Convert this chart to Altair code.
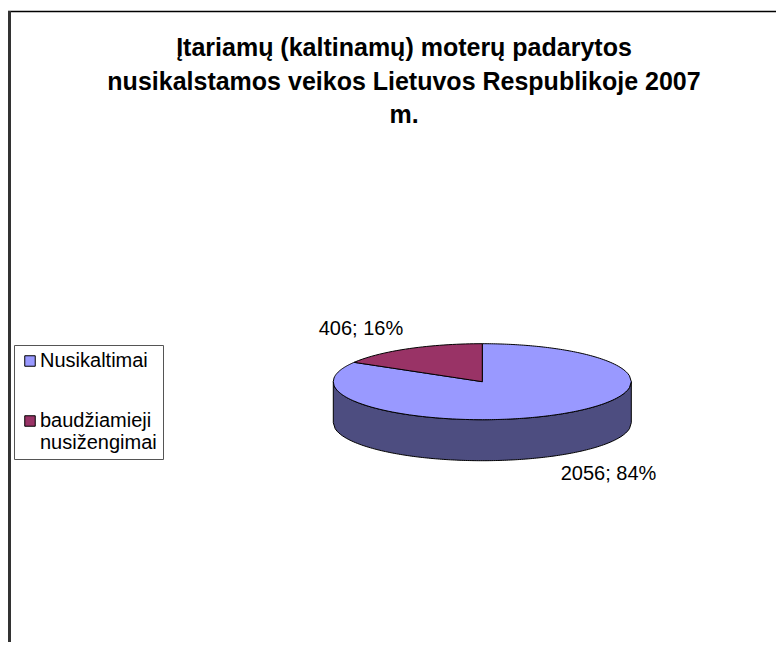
import math
import altair as alt
import pandas as pd

# ---- chart values ----
TITLE_LINES = ["Įtariamų (kaltinamų) moterų padarytos",
               "nusikalstamos veikos Lietuvos Respublikoje 2007",
               "m."]
SERIES = ["Nusikaltimai", "\u00a0baudžiamieji\nnusižengimai"]
VALUES = [2056, 406]
COLORS = ["#9999FF", "#993366"]
SIDE_COLOR = "#4D4D80"

# ---- pie geometry (drawing units = px) ----
A, B, DEPTH = 149, 38, 41
W, H = 768, 634
CX, CY = 482.3 - 8, 381.7 - 8
FONT = "Liberation Sans"
EPS = 1e-6

total = sum(VALUES)
theta = 2 * math.pi * VALUES[1] / total
xs = -A * math.sin(theta)


def upper(x):
    return B * math.sqrt(max(0.0, 1 - (x / A) ** 2))


def ray(x):
    return upper(xs) * x / xs


def grid(a, b, n=60):
    return [a + (b - a) * i / n for i in range(n + 1)]


side, main, wedge = [], [], []
for x in grid(-A, A, 160):
    side.append({"x": x, "y": -upper(x), "y2": -upper(x) - DEPTH})
for x in grid(-A, xs - EPS, 30):
    main.append({"x": x, "y": -upper(x), "y2": upper(x), "series": SERIES[0]})
for x in grid(xs, -EPS, 30):
    main.append({"x": x, "y": -upper(x), "y2": ray(x), "series": SERIES[0]})
    wedge.append({"x": x, "y": ray(x), "y2": upper(x), "series": SERIES[1]})
for x in grid(0, A, 80):
    main.append({"x": x, "y": -upper(x), "y2": upper(x), "series": SERIES[0]})

xscale = alt.Scale(domain=[-CX, W - CX], nice=False, zero=False)
yscale = alt.Scale(domain=[-(H - CY), CY], nice=False, zero=False)
X = alt.X("x:Q", scale=xscale, axis=None)
Y = alt.Y("y:Q", scale=yscale, axis=None, stack=None)
color = alt.Color(
    "series:N",
    scale=alt.Scale(domain=SERIES, range=COLORS),
    sort=SERIES,
    legend=alt.Legend(
        title=None, orient="none", legendX=6, legendY=337,
        fillColor="white", strokeColor="#555555", padding=6,
        symbolType="square", symbolSize=110, symbolStrokeColor="black",
        symbolStrokeWidth=1, symbolOpacity=1, labelFont=FONT, labelFontSize=20,
        labelColor="black", labelLimit=200, rowPadding=40, labelOffset=0,
        labelExpr="split(datum.label, '\\n')",
    ),
)

side_layer = alt.Chart(pd.DataFrame(side)).mark_area(
    fill=SIDE_COLOR, stroke="black", strokeWidth=1
).encode(x=X, y=Y, y2="y2:Q")
main_layer = alt.Chart(pd.DataFrame(main)).mark_area(
    stroke="black", strokeWidth=1, opacity=1
).encode(x=X, y=Y, y2="y2:Q", color=color)
wedge_layer = alt.Chart(pd.DataFrame(wedge)).mark_area(
    stroke="black", strokeWidth=1, opacity=1
).encode(x=X, y=Y, y2="y2:Q", color=color)

label_df = pd.DataFrame({
    "text": [f"{v}; {round(v / total * 100)}%" for v in VALUES],
    "px": [608.5 - 8, 361 - 8],
    "py": [474 - 8, 329 - 8],
})
labels = alt.Chart(label_df).mark_text(
    font=FONT, fontSize=20, color="black", align="center", baseline="middle"
).encode(
    x=alt.X("px:Q", scale=None),
    y=alt.Y("py:Q", scale=None),
    text="text:N",
)

frame_df = pd.DataFrame({"a": [0]})
top_rule = alt.Chart(frame_df).mark_rule(color="black", strokeWidth=1.5).encode(
    x=alt.value(0), x2=alt.value(W), y=alt.value(3.5))
left_rule = alt.Chart(frame_df).mark_rule(color="#333333", strokeWidth=3).encode(
    x=alt.value(1.5), y=alt.value(3), y2=alt.value(H))

chart = alt.layer(side_layer, main_layer, wedge_layer, labels, top_rule, left_rule).properties(
    width=W, height=H, padding=0,
    autosize=alt.AutoSizeParams(type="none"),
    title=alt.TitleParams(
        text=TITLE_LINES, font=FONT, fontSize=25, fontWeight="bold", color="black",
        anchor="middle", align="center", baseline="top", lineHeight=33.5, dx=12, dy=120, offset=0,
    ),
).configure_view(stroke=None)

chart.save("out.html", embed_options={"renderer": "svg", "actions": False})
